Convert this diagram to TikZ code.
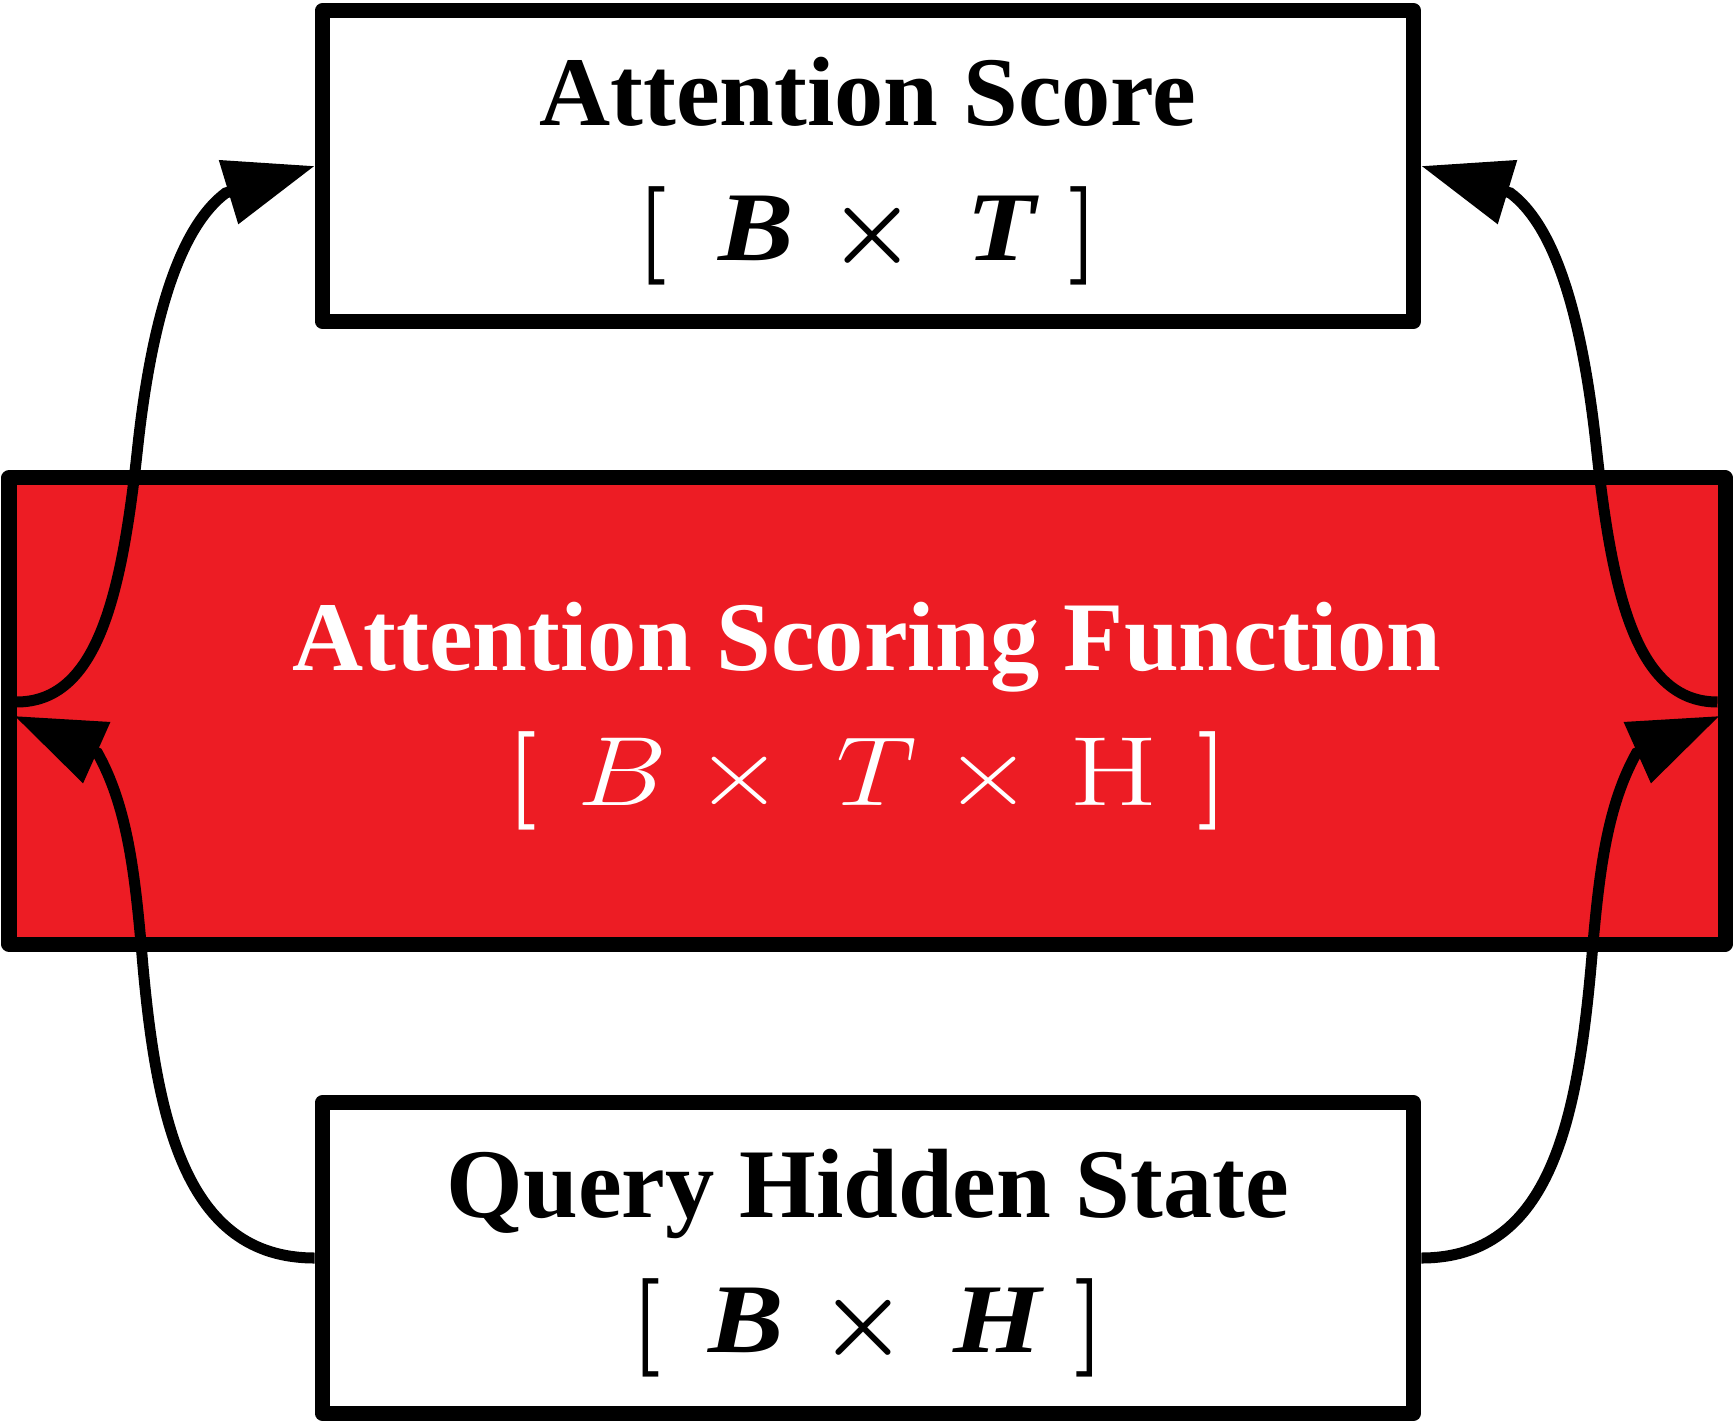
\RequirePackage{fix-cm}
\documentclass[tikz,border=0pt]{standalone}
\usepackage{graphicx}
\usepackage{fontspec}
\setmainfont{Liberation Serif}
\newfontfamily\widefont[FakeStretch=1.15]{Liberation Serif}
\usetikzlibrary{arrows.meta}
\definecolor{scorered}{RGB}{237,28,36}
\newcommand{\dimopen}{{\usefont{OT1}{cmr}{bx}{n}[}}
\newcommand{\dimclose}{{\usefont{OT1}{cmr}{bx}{n}]}}
\newcommand{\boldvar}[1]{{\widefont\bfseries\itshape #1}}
\newcommand{\widevar}[1]{\scalebox{1.15}[1]{#1}}
\newcommand{\boxtitle}[1]{\rule{0pt}{22.5pt}\textbf{#1}}
\tikzset{
	box/.style={draw, line width=0.15cm, line join=round, inner sep=0pt, align=center, font=\fontsize{28}{38.5}\selectfont},
	link/.style={line width=0.11cm, -{Triangle[length=0.9cm, width=0.64cm]}}
}

\begin{document}
\begin{tikzpicture}[x=0.01cm, y=-0.01cm]
	%%%%% START %%%%%
	\useasboundingbox (0, 0) rectangle (1734, 1422);
	
	\node[box, minimum width=10.91cm, minimum height=3.10cm] (score) at (868, 166)
		{\boxtitle{Attention Score}\\\dimopen\hspace{14.5pt}\boldvar{B}\hspace{10pt}{\boldmath$\times$}\hspace{14pt}\boldvar{T}\hspace{9.5pt}\dimclose};
	\node[box, fill=scorered, text=white, minimum width=17.15cm, minimum height=4.66cm] (scorefn) at (867, 711)
		{\boxtitle{Attention Scoring Function}\\\dimopen\hspace{11.5pt}\widevar{$B$}\hspace{8pt}\widevar{$\times$}\hspace{15pt}\widevar{$T$}\hspace{8pt}\widevar{$\times$}\hspace{10.5pt}\scalebox{1.3}[1]{\usefont{OT1}{cmr}{m}{n}H}\hspace{11pt}\dimclose};
	\node[box, minimum width=10.91cm, minimum height=3.10cm] (query) at (868, 1258)
		{\boxtitle{Query Hidden State}\\\dimopen\hspace{13.5pt}\boldvar{B}\hspace{10pt}{\boldmath$\times$}\hspace{13pt}\boldvar{H}\hspace{9.5pt}\dimclose};
	
	% ends and bends of the links
	\coordinate (lout) at ([shift={(15,-9)}]scorefn.west);
	\coordinate (rout) at ([shift={(-15,-9)}]scorefn.east);
	\coordinate (ltbend) at ([shift={(136,-262)}]scorefn.west);
	\coordinate (rtbend) at ([shift={(-136,-262)}]scorefn.east);
	\coordinate (ltbase) at ([shift={(-89,27)}]score.west);
	\coordinate (rtbase) at ([shift={(89,27)}]score.east);
	\coordinate (lin) at ([shift={(13,5)}]scorefn.west);
	\coordinate (rin) at ([shift={(-13,5)}]scorefn.east);
	\coordinate (lbbend) at ([shift={(140,238)}]scorefn.west);
	\coordinate (rbbend) at ([shift={(-140,238)}]scorefn.east);
	\coordinate (lbbase) at ([shift={(83,37)}]lin);
	\coordinate (rbbase) at ([shift={(-83,37)}]rin);
	
	% up into the score
	\draw[link] (lout) .. controls +(80, 0) and +(-16, 149) .. (ltbend)
		.. controls +(16, -149) and +(-40, 30) .. (ltbase) -- (score.west);
	\draw[link] (rout) .. controls +(-80, 0) and +(16, 149) .. (rtbend)
		.. controls +(-16, -149) and +(40, 30) .. (rtbase) -- (score.east);
	
	% up from the query
	\draw[link] (query.west) .. controls +(-130, 0) and +(14, 170) .. (lbbend)
		.. controls +(-7, -80) and +(29, 52) .. (lbbase) -- (lin);
	\draw[link] (query.east) .. controls +(130, 0) and +(-14, 170) .. (rbbend)
		.. controls +(7, -80) and +(-29, 52) .. (rbbase) -- (rin);
	
	%%%%% END %%%%%
\end{tikzpicture}
\end{document}
